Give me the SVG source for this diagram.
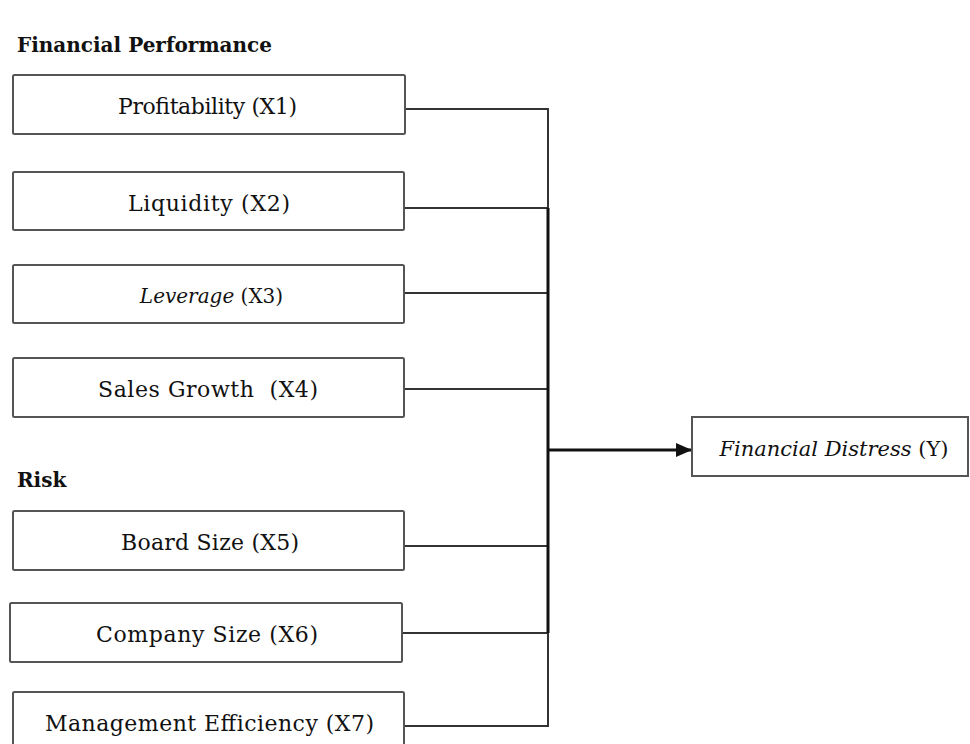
<svg xmlns="http://www.w3.org/2000/svg" width="970" height="744" viewBox="0 0 970 744">
<style>
.box{fill:#fff;stroke:#555;stroke-width:2}
.t{font-family:"DejaVu Serif","Liberation Serif",serif;font-size:22px;fill:#111;text-anchor:middle}
.h{font-family:"DejaVu Serif","Liberation Serif",serif;font-size:20px;font-weight:bold;fill:#111}
.c{fill:none;stroke:#333;stroke-width:2}
.cb{fill:none;stroke:#111;stroke-width:3}
</style>
<defs>
<marker id="arr" markerWidth="16" markerHeight="14" refX="16" refY="7" orient="auto" markerUnits="userSpaceOnUse">
<path d="M0,0 L16,7 L0,14 Z" fill="#111"/>
</marker>
</defs>
<rect width="970" height="744" fill="#fff"/>
<text class="h" x="17" y="52">Financial Performance</text>
<text class="h" x="17" y="487">Risk</text>
<g id="connectors">
<path class="c" d="M405,109 H548 V208"/>
<path class="c" d="M404,208 H548"/>
<path class="c" d="M404,293 H548"/>
<path class="c" d="M404,389 H548"/>
<path class="c" d="M404,546 H548"/>
<path class="c" d="M402,633 H548"/>
<path class="c" d="M404,726 H548 V633"/>
<path class="cb" d="M548,208 V633"/>
<path class="cb" d="M548,450 H692" marker-end="url(#arr)"/>
</g>
<g id="x1"><rect class="box" x="13" y="75" width="392" height="59" rx="1.5"/><text class="t" x="207.5" y="114" textLength="179" lengthAdjust="spacing">Profitability (X1)</text></g>
<g id="x2"><rect class="box" x="13" y="172" width="391" height="58" rx="1.5"/><text class="t" x="209" y="211" textLength="162" lengthAdjust="spacing">Liquidity (X2)</text></g>
<g id="x3"><rect class="box" x="13" y="265" width="391" height="58" rx="1.5"/><text class="t" x="211.5" y="303" style="font-size:20px"><tspan font-style="italic">Leverage</tspan> (X3)</text></g>
<g id="x4"><rect class="box" x="13" y="358" width="391" height="59" rx="1.5"/><text class="t" x="208" y="397" xml:space="preserve" textLength="220" lengthAdjust="spacing">Sales Growth  (X4)</text></g>
<g id="x5"><rect class="box" x="13" y="511" width="391" height="59" rx="1.5"/><text class="t" x="210" y="550" textLength="178" lengthAdjust="spacing">Board Size (X5)</text></g>
<g id="x6"><rect class="box" x="10" y="603" width="392" height="59" rx="1.5"/><text class="t" x="207" y="642" textLength="222" lengthAdjust="spacing">Company Size (X6)</text></g>
<g id="x7"><rect class="box" x="13" y="692" width="391" height="62" rx="1.5"/><text class="t" x="209.5" y="731" textLength="329" lengthAdjust="spacing">Management Efficiency (X7)</text></g>
<g id="y"><rect class="box" x="692" y="417" width="276" height="59"/><text class="t" x="834" y="456" style="font-size:21px"><tspan font-style="italic">Financial Distress</tspan> (Y)</text></g>
</svg>
